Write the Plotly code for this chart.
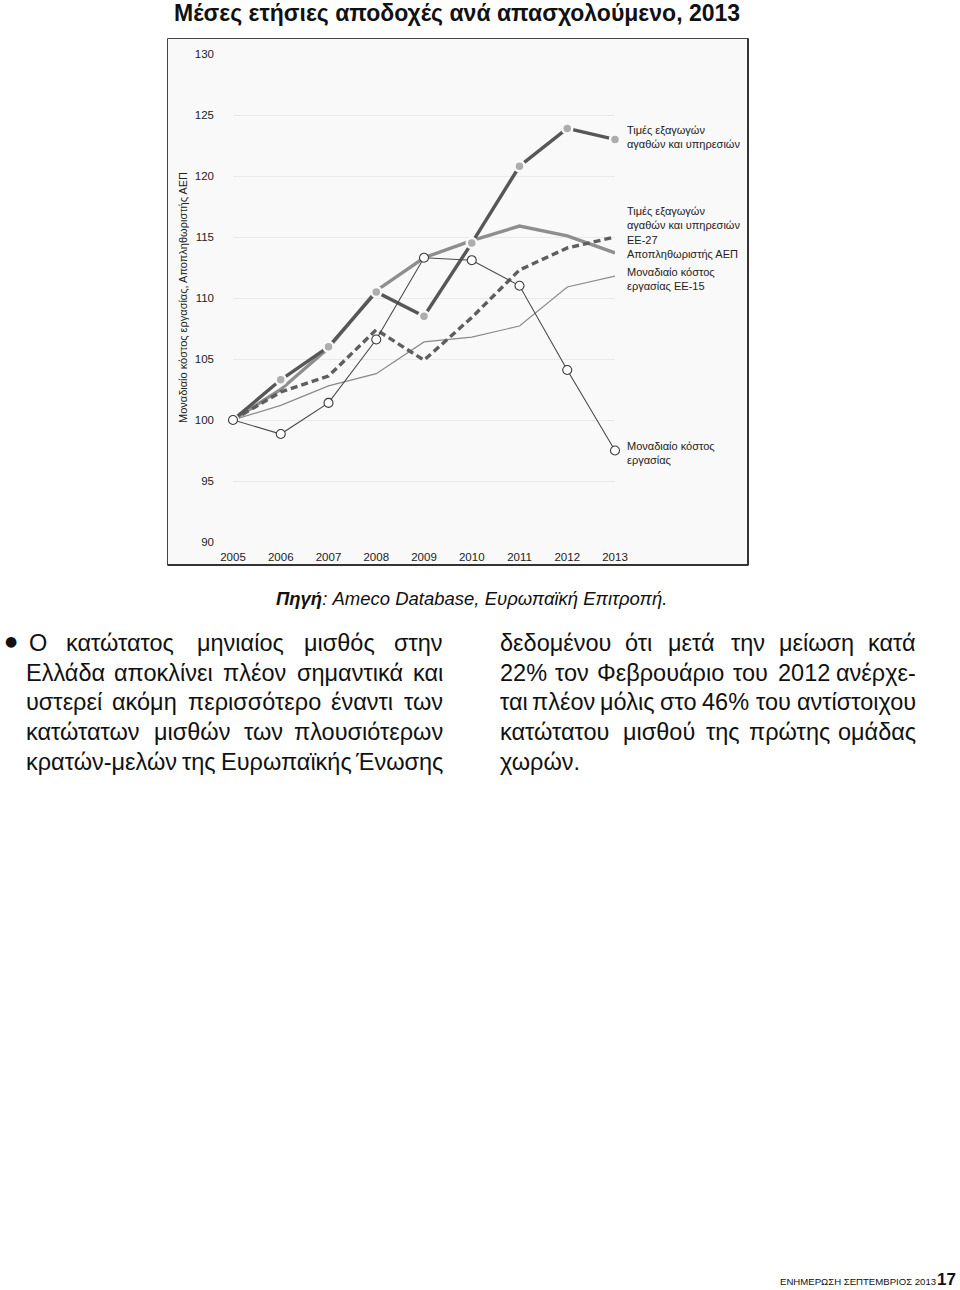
import plotly.graph_objects as go

# ---------------- data ----------------
years = [2005, 2006, 2007, 2008, 2009, 2010, 2011, 2012, 2013]
export_prices_gr = [100, 103.3, 106.0, 110.5, 108.5, 114.5, 120.8, 123.9, 123.0]
gdp_deflator = [100, 102.5, 105.9, 110.6, 113.3, 114.7, 115.9, 115.1, 113.7]
export_prices_eu27 = [100, 102.3, 103.6, 107.4, 104.9, 108.4, 112.3, 114.1, 115.0]
ulc_eu15 = [100, 101.2, 102.8, 103.8, 106.4, 106.8, 107.7, 110.9, 111.8]
ulc_gr = [100, 98.85, 101.4, 106.6, 113.3, 113.1, 111.0, 104.1, 97.5]

y_ticks = [90, 95, 100, 105, 110, 115, 120, 125, 130]

title_text = "Μέσες ετήσιες αποδοχές ανά απασχολούμενο, 2013"
y_title = "Μοναδιαίο κόστος εργασίας, Αποπληθωριστής ΑΕΠ"
source_text = "<b><i>Πηγή</i></b><i>: Ameco Database, Ευρωπαϊκή Επιτροπή.</i>"

label_export_gr = "Τιμές εξαγωγών<br>αγαθών και υπηρεσιών"
label_export_eu = "Τιμές εξαγωγών<br>αγαθών και υπηρεσιών<br>ΕΕ-27"
label_deflator = "Αποπληθωριστής ΑΕΠ"
label_ulc_eu = "Μοναδιαίο κόστος<br>εργασίας ΕΕ-15"
label_ulc_gr = "Μοναδιαίο κόστος<br>εργασίας"

left_lines = [
    "Ο κατώτατος μηνιαίος μισθός στην",
    "Ελλάδα αποκλίνει πλέον σημαντικά και",
    "υστερεί ακόμη περισσότερο έναντι των",
    "κατώτατων μισθών των πλουσιότερων",
    "κρατών-μελών της Ευρωπαϊκής Ένωσης",
]
right_lines = [
    "δεδομένου ότι μετά την μείωση κατά",
    "22% τον Φεβρουάριο του 2012 ανέρχε-",
    "ται πλέον μόλις στο 46% του αντίστοιχου",
    "κατώτατου μισθού της πρώτης ομάδας",
    "χωρών.",
]
footer_text = "ΕΝΗΜΕΡΩΣΗ ΣΕΠΤΕΜΒΡΙΟΣ 2013"
page_no = "17"

# ---------------- geometry helpers (pixel -> paper) ----------------
W, H = 960, 1290
PL, PR, PT, PB = 233, 615, 54, 542


def px(x):
    return (x - PL) / (PR - PL)


def py(y):
    return (PB - y) / (PB - PT)


FONT = "Liberation Sans, Arial, Helvetica, sans-serif"
NARROW = "Liberation Sans Narrow, Arial Narrow, Liberation Sans, sans-serif"
BG = "#f9f9f9"

fig = go.Figure()

fig.add_trace(go.Scatter(x=years, y=ulc_eu15, mode="lines",
                         line=dict(color="#8a8a8a", width=1.2),
                         cliponaxis=False, showlegend=False))
fig.add_trace(go.Scatter(x=years, y=gdp_deflator, mode="lines",
                         line=dict(color="#8e8e8e", width=3.4),
                         cliponaxis=False, showlegend=False))
fig.add_trace(go.Scatter(x=years, y=export_prices_eu27, mode="lines",
                         line=dict(color="#5e5e5e", width=3.4, dash="7px,4px"),
                         cliponaxis=False, showlegend=False))
fig.add_trace(go.Scatter(x=years, y=export_prices_gr, mode="lines+markers",
                         line=dict(color="#575757", width=3.4),
                         marker=dict(size=10, color="#adadad",
                                     line=dict(color=BG, width=2.5)),
                         cliponaxis=False, showlegend=False))
fig.add_trace(go.Scatter(x=years, y=ulc_gr, mode="lines+markers",
                         line=dict(color="#4a4a4a", width=1.1),
                         marker=dict(size=9, color="white",
                                     line=dict(color="#3a3a3a", width=1.1)),
                         cliponaxis=False, showlegend=False))

shapes = []
shapes.append(dict(type="rect", xref="paper", yref="paper", layer="below",
                   x0=px(167.5), x1=px(748), y0=py(565), y1=py(38.5),
                   fillcolor=BG, line=dict(color="#444", width=1)))
shapes.append(dict(type="line", xref="paper", yref="paper",
                   x0=px(748), x1=px(748), y0=py(565), y1=py(38.5),
                   line=dict(color="#333", width=2)))
shapes.append(dict(type="line", xref="paper", yref="paper",
                   x0=px(167.5), x1=px(748.5), y0=py(565), y1=py(565),
                   line=dict(color="#333", width=2)))

annotations = []
annotations.append(dict(text="<b>" + title_text + "</b>", xref="paper", yref="paper",
                        x=px(172), y=py(13), xanchor="left", yanchor="middle",
                        showarrow=False,
                        font=dict(family=FONT, size=23, color="#111")))
annotations.append(dict(text=y_title, xref="paper", yref="paper",
                        x=px(183), y=py(298), textangle=-90,
                        xanchor="center", yanchor="middle", showarrow=False,
                        font=dict(family=FONT, size=11, color="#222")))

label_font = dict(family=FONT, size=11, color="#222")
for txt, ycen in [(label_export_gr, 137), (label_export_eu, 225),
                  (label_deflator, 254), (label_ulc_eu, 279), (label_ulc_gr, 453)]:
    annotations.append(dict(text=txt, xref="paper", yref="paper",
                            x=px(625), y=py(ycen), xanchor="left", yanchor="middle",
                            align="left", showarrow=False, font=label_font))

annotations.append(dict(text=source_text, xref="paper", yref="paper",
                        x=px(274), y=py(598), xanchor="left", yanchor="middle",
                        showarrow=False, font=dict(family=FONT, size=18.5, color="#111")))

# ---- body text, approximated justification ----
BODY_SIZE = 23.5
body_font = dict(family=FONT, size=BODY_SIZE, color="#111")

CHAR_W = {
    "α": .58, "ά": .58, "β": .56, "γ": .50, "δ": .56, "ε": .45, "έ": .45,
    "ζ": .44, "η": .56, "ή": .56, "θ": .56, "ι": .22, "ί": .22, "ϊ": .22,
    "κ": .50, "λ": .50, "μ": .58, "ν": .50, "ξ": .45, "ο": .56, "ό": .56,
    "π": .62, "ρ": .56, "σ": .60, "ς": .44, "τ": .43, "υ": .56, "ύ": .56,
    "φ": .65, "χ": .50, "ψ": .70, "ω": .78, "ώ": .78,
    "Έ": .86, "Ά": .80, "Ή": .90, "Ί": .45, "Ό": .90, "Ύ": .85, "Ώ": .90,
    "-": .33, ".": .28, ",": .28, "%": .89,
}


def est_width(word):
    w = 0.0
    for ch in word:
        if ch in CHAR_W:
            w += CHAR_W[ch]
        elif ch.isdigit():
            w += 0.556
        elif ch.isupper():
            w += 0.68
        else:
            w += 0.54
    return w * BODY_SIZE


def add_line(words_line, x0, x1, ycen, justify=True):
    words = words_line.split(" ")
    if not justify or len(words) == 1:
        annotations.append(dict(text=words_line, xref="paper", yref="paper",
                                x=px(x0), y=py(ycen), xanchor="left", yanchor="middle",
                                showarrow=False, font=body_font))
        return
    widths = [est_width(w) for w in words]
    gap = (x1 - x0 - sum(widths)) / (len(words) - 1)
    pos = x0
    for i, (w, wd) in enumerate(zip(words, widths)):
        if i == 0:
            anchor, xx = "left", x0
        elif i == len(words) - 1:
            anchor, xx = "right", x1
        else:
            anchor, xx = "center", pos + wd / 2
        annotations.append(dict(text=w, xref="paper", yref="paper",
                                x=px(xx), y=py(ycen), xanchor=anchor, yanchor="middle",
                                showarrow=False, font=body_font))
        pos += wd + gap


line_y = [643, 672.5, 702, 732, 762]
annotations.append(dict(text="●", xref="paper", yref="paper", x=px(3), y=py(641),
                        xanchor="left", yanchor="middle", showarrow=False,
                        font=dict(family="DejaVu Sans, sans-serif", size=14, color="#111")))
for i, ln in enumerate(left_lines):
    add_line(ln, 27 if i == 0 else 24, 445, line_y[i], justify=True)
for i, ln in enumerate(right_lines):
    add_line(ln, 498, 918, line_y[i], justify=(i < len(right_lines) - 1))

annotations.append(dict(text=footer_text, xref="paper", yref="paper",
                        x=px(938), y=py(1281), xanchor="right", yanchor="middle",
                        showarrow=False, font=dict(family=NARROW, size=9.6, color="#111")))
annotations.append(dict(text="<b>" + page_no + "</b>", xref="paper", yref="paper",
                        x=px(958), y=py(1279), xanchor="right", yanchor="middle",
                        showarrow=False, font=dict(family=NARROW, size=17, color="#111")))

fig.update_layout(
    width=W, height=H,
    margin=dict(l=PL, r=W - PR, t=PT, b=H - PB, pad=0),
    paper_bgcolor="white", plot_bgcolor="rgba(0,0,0,0)",
    showlegend=False,
    shapes=shapes, annotations=annotations,
    xaxis=dict(range=[2005, 2013], tickmode="array", tickvals=years,
               ticktext=[str(y) for y in years], showgrid=False, zeroline=False,
               showline=False, ticks="", ticklabelstandoff=6,
               tickfont=dict(family=FONT, size=11.5, color="#222")),
    yaxis=dict(range=[90, 130], tickmode="array", tickvals=y_ticks,
               showgrid=True, gridcolor="#e9e9e9", gridwidth=1, zeroline=False,
               showline=False, ticks="", ticklabelstandoff=18,
               tickfont=dict(family=FONT, size=11.5, color="#222")),
)

fig.write_html("out.html")
